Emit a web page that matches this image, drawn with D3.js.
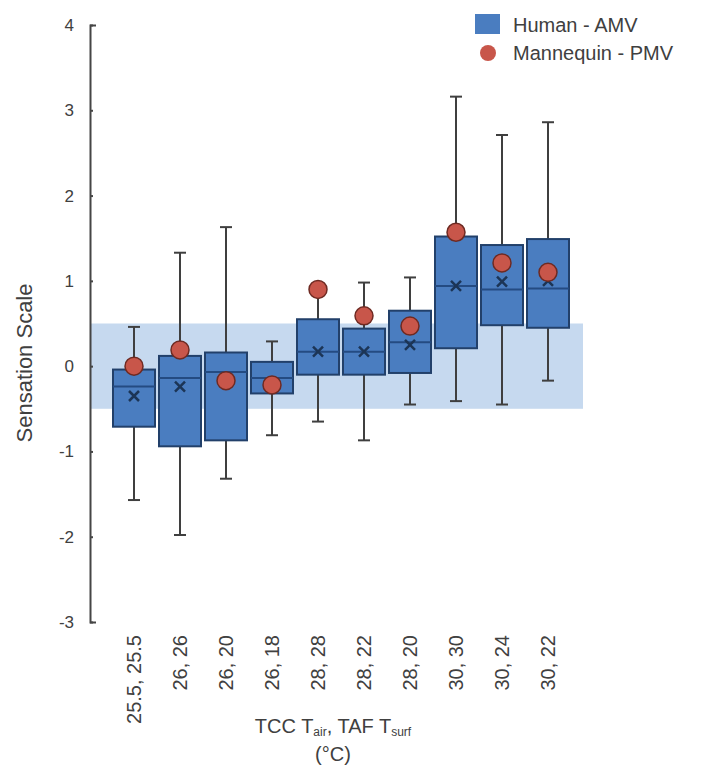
<!DOCTYPE html>
<html>
<head>
<meta charset="utf-8">
<script src="https://cdn.jsdelivr.net/npm/d3@7"></script>
<style>
  body { margin: 0; background: #fff; }
  text { font-family: "Liberation Sans", Arial, sans-serif; fill: #404040; }
</style>
</head>
<body>
<div id="chart"></div>
<script>
// categories (TCC Tair, TAF Tsurf)
var categories = ["25.5, 25.5", "26, 26", "26, 20", "26, 18", "28, 28", "28, 22", "28, 20", "30, 30", "30, 24", "30, 22"];

// Human - AMV box statistics
var whiskerLow  = [-1.57, -1.98, -1.32, -0.81, -0.65, -0.87, -0.45, -0.41, -0.45, -0.17];
var q1          = [-0.71, -0.94, -0.87, -0.32, -0.10, -0.10, -0.08,  0.21,  0.48,  0.45];
var median      = [-0.24, -0.14, -0.07, -0.14,  0.17,  0.17,  0.28,  0.94,  0.90,  0.91];
var q3          = [-0.04,  0.12,  0.16,  0.05,  0.55,  0.44,  0.65,  1.52,  1.42,  1.49];
var whiskerHigh = [ 0.46,  1.33,  1.63,  0.29,  0.96,  0.98,  1.04,  3.16,  2.71,  2.86];
var mean        = [-0.35, -0.24, -0.15, -0.20,  0.17,  0.17,  0.25,  0.94,  0.99,  1.00];

// Mannequin - PMV
var pmv = [0.00, 0.19, -0.17, -0.22, 0.90, 0.59, 0.47, 1.57, 1.21, 1.10];

// comfort band and y ticks
var band = [-0.5, 0.5];
var yTicks = [-3, -2, -1, 0, 1, 2, 3, 4];

var width = 704, height = 765;

var svg = d3.select("#chart")
  .append("svg")
    .attr("width", width)
    .attr("height", height);

var y = d3.scaleLinear()
  .domain([-3, 4])
  .range([622, 25]);

var x = d3.scaleBand()
  .domain(categories)
  .range([111, 571])
  .paddingInner(0.087)
  .paddingOuter(0.0435);

var axisX = 90;

// light blue comfort band
svg.append("rect")
  .attr("x", axisX)
  .attr("y", y(band[1]))
  .attr("width", 583 - axisX)
  .attr("height", y(band[0]) - y(band[1]))
  .attr("fill", "#c6d9ef");

var data = categories.map(function(c, i) {
  return {cat: c, lo: whiskerLow[i], q1: q1[i], med: median[i], q3: q3[i], hi: whiskerHigh[i], mean: mean[i], pmv: pmv[i]};
});

var g = svg.selectAll(".box")
  .data(data)
  .enter().append("g")
  .attr("class", "box");

// whiskers
g.append("line")
  .attr("x1", function(d) { return x(d.cat) + x.bandwidth() / 2; })
  .attr("x2", function(d) { return x(d.cat) + x.bandwidth() / 2; })
  .attr("y1", function(d) { return y(d.lo); })
  .attr("y2", function(d) { return y(d.hi); })
  .attr("stroke", "#3f3f3f")
  .attr("stroke-width", 2);

["lo", "hi"].forEach(function(k) {
  g.append("line")
    .attr("x1", function(d) { return x(d.cat) + x.bandwidth() / 2 - 6; })
    .attr("x2", function(d) { return x(d.cat) + x.bandwidth() / 2 + 6; })
    .attr("y1", function(d) { return y(d[k]); })
    .attr("y2", function(d) { return y(d[k]); })
    .attr("stroke", "#3f3f3f")
    .attr("stroke-width", 2);
});

// boxes
g.append("rect")
  .attr("x", function(d) { return x(d.cat); })
  .attr("y", function(d) { return y(d.q3); })
  .attr("width", x.bandwidth())
  .attr("height", function(d) { return y(d.q1) - y(d.q3); })
  .attr("fill", "#4a7dc0")
  .attr("stroke", "#22406a")
  .attr("stroke-width", 2);

// median
g.append("line")
  .attr("x1", function(d) { return x(d.cat); })
  .attr("x2", function(d) { return x(d.cat) + x.bandwidth(); })
  .attr("y1", function(d) { return y(d.med); })
  .attr("y2", function(d) { return y(d.med); })
  .attr("stroke", "#244b82")
  .attr("stroke-width", 2);

// mean marker (x)
var mk = 5;
g.append("path")
  .attr("d", function(d) {
    var cx = x(d.cat) + x.bandwidth() / 2, cy = y(d.mean);
    return "M" + (cx - mk) + "," + (cy - mk) + "L" + (cx + mk) + "," + (cy + mk) +
           "M" + (cx - mk) + "," + (cy + mk) + "L" + (cx + mk) + "," + (cy - mk);
  })
  .attr("stroke", "#1c3556")
  .attr("stroke-width", 2.5)
  .attr("fill", "none");

// PMV dots
g.append("circle")
  .attr("cx", function(d) { return x(d.cat) + x.bandwidth() / 2; })
  .attr("cy", function(d) { return y(d.pmv); })
  .attr("r", 9)
  .attr("fill", "#c8564a")
  .attr("stroke", "#6e2a22")
  .attr("stroke-width", 1.5);

// y axis
var yAxis = svg.append("g")
  .attr("transform", "translate(" + axisX + ",0)")
  .call(d3.axisLeft(y).tickValues(yTicks)
    .tickFormat(function(d) { return String(d); })
    .tickSizeInner(-3).tickSizeOuter(-6).tickPadding(16));
yAxis.select(".domain").attr("stroke", "#454545").attr("stroke-width", 2);
yAxis.selectAll(".tick line").attr("stroke", "#454545").attr("stroke-width", 2);
yAxis.selectAll(".tick text")
  .style("font-family", "Liberation Sans, Arial, sans-serif")
  .style("font-size", "17px")
  .attr("fill", "#404040");

// y label
svg.append("text")
  .attr("transform", "translate(32,363) rotate(-90)")
  .style("text-anchor", "middle")
  .style("font-size", "22px")
  .text("Sensation Scale");

// x tick labels (rotated)
svg.selectAll(".xlab")
  .data(categories)
  .enter().append("text")
  .attr("class", "xlab")
  .attr("transform", function(d) { return "translate(" + (x(d) + x.bandwidth() / 2 + 7) + ",635) rotate(-90)"; })
  .style("text-anchor", "end")
  .style("font-size", "20px")
  .text(function(d) { return d; });

// x axis title
var xt = svg.append("text")
  .attr("x", 333)
  .attr("y", 733)
  .style("text-anchor", "middle")
  .style("font-size", "20px");
xt.append("tspan").text("TCC T");
xt.append("tspan").attr("baseline-shift", "-3px").style("font-size", "12px").text("air");
xt.append("tspan").text(", TAF T");
xt.append("tspan").attr("baseline-shift", "-3px").style("font-size", "12px").text("surf");

svg.append("text")
  .attr("x", 333)
  .attr("y", 761)
  .style("text-anchor", "middle")
  .style("font-size", "20px")
  .text("(°C)");

// legend
svg.append("rect").attr("x", 475).attr("y", 14).attr("width", 25).attr("height", 20).attr("fill", "#4a7dc0");
svg.append("text").attr("x", 513).attr("y", 25).attr("dy", "0.35em").style("font-size", "20px").text("Human - AMV");
svg.append("circle").attr("cx", 488).attr("cy", 53).attr("r", 8).attr("fill", "#c8564a");
svg.append("text").attr("x", 513).attr("y", 53).attr("dy", "0.35em").style("font-size", "20px").text("Mannequin - PMV");
</script>
</body>
</html>
